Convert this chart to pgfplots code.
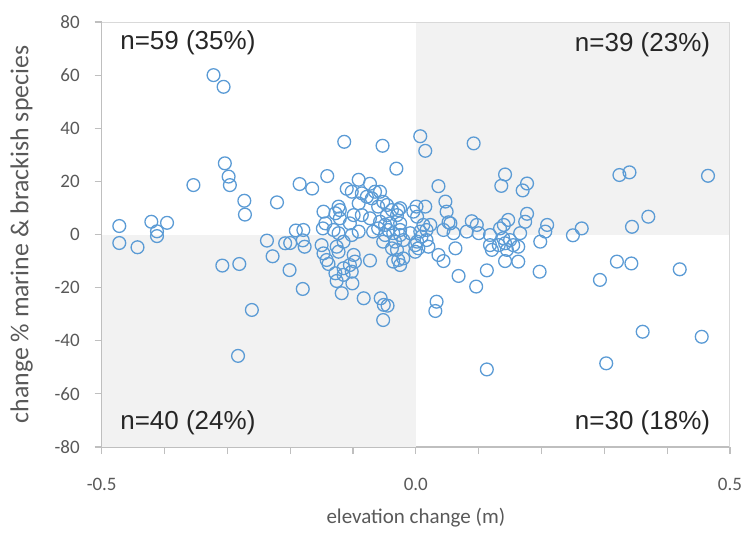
\documentclass[border=0pt]{standalone}
\usepackage{fontspec}
\setmainfont{Carlito}
\newfontfamily\annfont{Liberation Sans}
\usepackage{pgfplots}
\pgfplotsset{compat=1.18}

\definecolor{ptblue}{HTML}{5B9BD5}
\definecolor{quadgray}{HTML}{F2F2F2}
\definecolor{axgray}{HTML}{BFBFBF}
\definecolor{boxgray}{HTML}{D9D9D9}
\definecolor{txtgray}{HTML}{595959}
\definecolor{anngray}{HTML}{262626}

\begin{document}
\begin{tikzpicture}[ann/.style={inner sep=0pt, font=\annfont\fontsize{13}{15}\selectfont, text=anngray}]
\path[use as bounding box] (-50.85pt,-45pt) rectangle (324.15pt,223.5pt);
\begin{axis}[
  at={(0,0)}, anchor=south west,
  scale only axis,
  width=314.15pt, height=212.5pt,
  xmin=-0.5, xmax=0.5, ymin=-80, ymax=80,
  axis x line*=bottom, axis y line*=left,
  axis line style={draw=axgray, line width=0.6pt},
  tick style={draw=axgray, line width=0.6pt},
  tick align=outside, major tick length=3.5pt,
  xtick={-0.5,-0.4,...,0.5},
  xticklabels={-0.5,,,,,0.0,,,,,0.5},
  ytick={-80,-60,...,80},
  yticklabels={-80,-60,-40,-20,0,20,40,60,80},
  tick label style={font=\fontsize{9.5}{10}\selectfont, text=txtgray},
  xticklabel style={yshift=-8.5pt},
  yticklabel style={xshift=-4pt},
  /pgf/number format/assume math mode=true,
  xlabel={elevation change (m)},
  ylabel={change \% marine \& brackish species},
  every axis x label/.style={at={([yshift=-35.5pt]axis description cs:0.5,0)}, anchor=center, font=\fontsize{10.5}{12}\selectfont, text=txtgray},
  every axis y label/.style={at={([xshift=-40pt]axis description cs:0,0.5)}, rotate=90, anchor=center, font=\fontsize{12.9}{14}\selectfont, text=txtgray},
]
% shaded quadrants (both coordinates of the same sign)
\addplot[fill=quadgray, draw=none] coordinates {(0,0) (0.5,0) (0.5,80) (0,80)} -- cycle;
\addplot[fill=quadgray, draw=none] coordinates {(-0.5,-80) (0,-80) (0,0) (-0.5,0)} -- cycle;
\draw[boxgray, line width=0.6pt] (rel axis cs:0,1) -- (rel axis cs:1,1) -- (rel axis cs:1,0);

\addplot[only marks, mark=o, mark size=3.2pt, mark options={draw=ptblue, line width=0.65pt}] table {
x y
-0.322 60.0
-0.306 55.6
-0.114 34.9
-0.053 33.4
-0.304 26.8
-0.298 21.8
-0.296 18.6
-0.354 18.6
-0.031 24.8
-0.141 22.0
-0.185 19.0
-0.165 17.3
-0.091 20.6
-0.273 12.7
-0.272 7.5
-0.221 12.1
-0.472 3.2
-0.421 4.8
-0.396 4.4
-0.412 1.2
-0.110 17.2
-0.102 16.1
-0.073 19.1
-0.086 15.5
-0.078 14.2
-0.065 16.1
-0.057 16.1
-0.091 11.7
-0.070 13.6
-0.052 12.3
-0.046 11.1
-0.060 10.5
-0.038 9.2
-0.028 9.2
-0.025 9.9
-0.147 8.6
-0.123 10.5
-0.121 9.2
-0.128 8.0
-0.099 7.3
-0.086 7.3
-0.046 7.3
-0.030 7.3
-0.179 1.7
-0.144 4.2
-0.121 6.1
-0.131 1.7
-0.123 0.5
-0.105 4.2
-0.091 1.1
-0.073 6.1
-0.068 1.1
-0.060 2.3
-0.057 4.8
-0.049 3.6
-0.041 4.2
-0.044 1.7
-0.036 0.5
-0.025 4.2
-0.025 1.7
-0.009 0.5
-0.004 8.6
-0.148 2.3
-0.191 1.5
0.007 37.0
0.015 31.5
0.092 34.3
0.465 22.1
0.324 22.4
0.340 23.4
0.142 22.6
0.136 18.3
0.177 19.2
0.170 16.6
0.036 18.2
0.047 12.4
0.049 8.6
0.015 10.5
0.001 10.5
0.177 7.8
0.174 4.8
0.370 6.7
0.344 2.9
0.264 2.3
0.209 3.6
0.206 1.1
0.089 5.0
0.097 3.6
0.147 5.5
0.140 3.6
0.134 2.3
0.052 4.6
0.012 3.6
0.017 1.7
0.023 3.6
0.007 1.1
0.044 1.7
0.060 0.5
0.055 4.2
0.081 1.1
0.100 0.5
0.166 0.5
0.002 6.7
-0.472 -3.2
-0.443 -4.8
-0.412 -0.6
-0.308 -11.7
-0.281 -11.1
-0.261 -28.4
-0.283 -45.7
-0.237 -2.3
-0.228 -8.2
-0.208 -3.3
-0.200 -3.2
-0.201 -13.4
-0.180 -20.5
-0.180 -2.2
-0.177 -4.6
-0.150 -4.0
-0.147 -7.1
-0.139 -11.1
-0.142 -9.6
-0.126 -4.6
-0.123 -6.5
-0.115 -2.7
-0.128 -14.6
-0.126 -17.5
-0.118 -22.1
-0.115 -12.7
-0.115 -15.2
-0.105 -11.5
-0.102 -14.0
-0.099 -7.7
-0.097 -10.2
-0.101 -18.4
-0.083 -24.0
-0.073 -9.8
-0.056 -24.0
-0.051 -26.5
-0.045 -26.8
-0.052 -32.2
-0.001 -4.0
-0.001 -6.5
-0.102 -0.2
-0.049 -0.2
-0.052 -2.7
-0.033 -2.7
-0.025 -0.2
-0.020 -2.1
-0.038 -5.2
-0.030 -5.8
-0.028 -9.6
-0.036 -10.2
-0.020 -9.0
-0.025 -11.5
0.036 -7.7
0.044 -10.0
0.063 -5.2
0.068 -15.6
0.096 -19.6
0.113 -13.5
0.142 -10.0
0.163 -10.2
0.197 -14.0
0.033 -25.3
0.031 -28.8
0.113 -50.8
0.293 -17.1
0.320 -10.2
0.343 -10.9
0.420 -13.1
0.361 -36.6
0.455 -38.5
0.303 -48.5
0.009 -0.8
0.118 -0.2
0.118 -4.0
0.139 -1.4
0.142 -3.3
0.150 -2.1
0.145 -5.8
0.155 -4.0
0.163 -4.6
0.198 -2.7
0.121 -5.8
0.132 -4.0
0.250 -0.3
0.002 -2.7
0.004 -5.2
0.017 -2.1
0.020 -4.6
};

% quadrant counts
\node[ann, anchor=west] at (axis cs:-0.471,72.1) {n=59 (35\%)};
\node[ann, anchor=east] at (axis cs:0.469,71.4) {n=39 (23\%)};
\node[ann, anchor=west] at (axis cs:-0.471,-71.0) {n=40 (24\%)};
\node[ann, anchor=east] at (axis cs:0.469,-70.7) {n=30 (18\%)};
\end{axis}
\end{tikzpicture}
\end{document}
